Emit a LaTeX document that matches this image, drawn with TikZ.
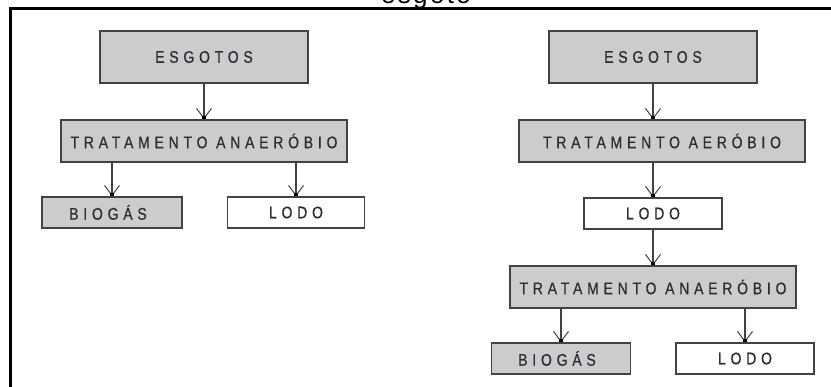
\documentclass[tikz,border=0pt]{standalone}
\usepackage{fontspec}
\setmainfont{Liberation Sans}
\newfontfamily\boxfont[LetterSpace=34,FakeBold=0.6]{Liberation Sans}
\newfontfamily\titlefont[LetterSpace=9]{Liberation Sans}
\usetikzlibrary{arrows.meta}

\definecolor{boxgray}{HTML}{CCCCCC}
\definecolor{edgegray}{HTML}{3F4347}
\definecolor{inkgray}{HTML}{2A2D34}

% box captions are set slightly tall
\newcommand\boxtext[1]{\scalebox{1}[1.2]{#1}}

\tikzset{
  stage/.style={draw=edgegray, line width=1.5pt, fill=boxgray, inner sep=0pt,
    font=\boxfont\fontsize{14}{16}\selectfont, text=inkgray},
  product/.style={stage, fill=white},
  conn/.style={draw=edgegray, line width=1.3pt,
    -{Straight Barb[length=10pt,width=15pt,line width=1pt]}},
  tipdot/.style={fill=black},
}

% downward connector ending on a named point, with a small square at its tip
\newcommand\linkdown[2]{%
  \draw[conn] (#1) -- (#2);
  \fill[tipdot] ([shift={(-1.8,-3.6)}]#2) rectangle ([shift={(1.8,0)}]#2);
}

\begin{document}
\begin{tikzpicture}[x=1pt,y=-1pt]
\useasboundingbox (0,0) rectangle (831,387);
\clip (0,0) rectangle (831,387);

% title, mostly above the page edge
\node[font=\titlefont\fontsize{26}{28}\selectfont, anchor=base] (title) at (426,3.5) {esgoto};

% outer frame
\draw[line width=3pt] (10.5,400) -- (10.5,8.5) -- (850,8.5);

% left chain
\node[stage, minimum width=208, minimum height=52] (e1) at (204,57) {\boxtext{ESGOTOS}};
\node[stage, minimum width=286, minimum height=42] (t1) at (204,141) {\boxtext{TRATAMENTO ANAERÓBIO}};
\node[stage, minimum width=140, minimum height=31] (b1) at (112,212.5) {\boxtext{BIOGÁS}\hspace*{8pt}};
\node[product, minimum width=137, minimum height=31] (l1) at (296,212.5) {\boxtext{LODO}};

\linkdown{e1.south}{t1.north}
\coordinate (b1top) at (b1.north);
\linkdown{t1.south -| b1top}{b1.north}
\linkdown{t1.south -| l1.north}{l1.north}

% right chain
\node[stage, minimum width=208, minimum height=52] (e2) at (653,57) {\boxtext{ESGOTOS}};
\node[stage, minimum width=286, minimum height=42] (t2) at (662,141) {\boxtext{TRATAMENTO AERÓBIO}};
\node[product, minimum width=138, minimum height=31] (l2) at (653,213.5) {\boxtext{LODO}};
\node[stage, minimum width=286, minimum height=42] (t3) at (653,287) {\boxtext{TRATAMENTO ANAERÓBIO}};
\node[stage, minimum width=139, minimum height=31] (b2) at (561,358.5) {\boxtext{BIOGÁS}\hspace*{8pt}};
\node[product, minimum width=138, minimum height=31] (l3) at (745,358.5) {\boxtext{LODO}};

\coordinate (t2in) at (t2.north -| e2.south);
\linkdown{e2.south}{t2in}
\coordinate (t2out) at (t2.south -| l2.north);
\linkdown{t2out}{l2.north}
\linkdown{l2.south}{t3.north}
\linkdown{t3.south -| b2.north}{b2.north}
\linkdown{t3.south -| l3.north}{l3.north}
\end{tikzpicture}
\end{document}
